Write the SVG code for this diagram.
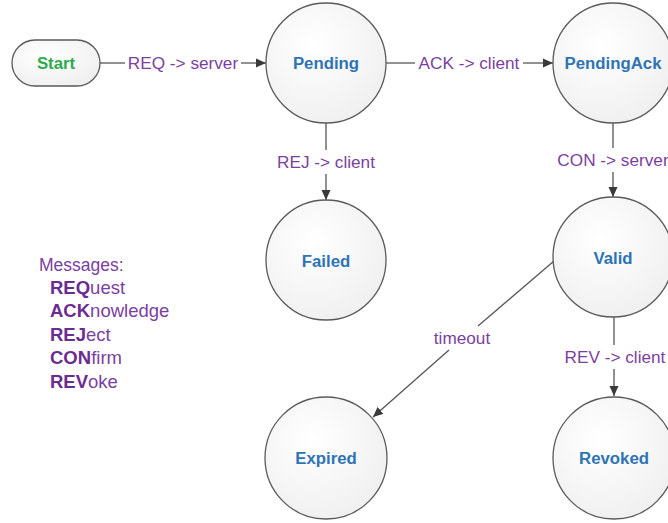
<svg xmlns="http://www.w3.org/2000/svg" width="668" height="523" viewBox="0 0 668 523">
  <style>
    .state { stroke: #5a5a5a; stroke-width: 1.3; fill: url(#stateFill); }
    .name { font-family: "Liberation Sans", Arial, sans-serif; font-weight: bold; font-size: 16.8px; fill: #2E74B5; text-anchor: middle; dominant-baseline: central; }
    .start { fill: #2EAA4F; }
    .edge { stroke: #555; stroke-width: 1.3; fill: none; }
    .lbl { font-family: "Liberation Sans", Arial, sans-serif; font-size: 17.2px; fill: #7B3FA0; text-anchor: middle; dominant-baseline: central; }
    .legend { font-family: "Liberation Sans", Arial, sans-serif; font-size: 17.5px; fill: #7B3FA0; }
    .legend .item { font-size: 18.5px; }
    .legend .b { font-weight: bold; fill: #6A2C91; }
  </style>
  <defs>
    <radialGradient id="stateFill" cx="0.4" cy="0.35" r="0.8">
      <stop offset="0" stop-color="#ffffff"/>
      <stop offset="1" stop-color="#ededed"/>
    </radialGradient>
    <marker id="arrow" viewBox="0 0 10 10" refX="10" refY="5" markerWidth="10" markerHeight="10" markerUnits="userSpaceOnUse" orient="auto">
      <path d="M0,0.5 L10,5 L0,9.5 z" fill="#3a3a3a"/>
    </marker>
  </defs>

  <rect width="668" height="523" fill="#ffffff"/>

  <!-- connectors -->
  <g id="connectors">
    <!-- Start -> Pending -->
    <line class="edge" x1="100" y1="63" x2="125" y2="63"/>
    <line class="edge" x1="241" y1="63" x2="266" y2="63" marker-end="url(#arrow)"/>
    <text class="lbl" x="183" y="63">REQ -&gt; server</text>
    <!-- Pending -> PendingAck -->
    <line class="edge" x1="386" y1="63" x2="415" y2="63"/>
    <line class="edge" x1="523" y1="63" x2="553" y2="63" marker-end="url(#arrow)"/>
    <text class="lbl" x="469" y="63">ACK -&gt; client</text>
    <!-- Pending -> Failed -->
    <line class="edge" x1="326" y1="123" x2="326" y2="150"/>
    <line class="edge" x1="326" y1="174" x2="326" y2="200" marker-end="url(#arrow)"/>
    <text class="lbl" x="326" y="162">REJ -&gt; client</text>
    <!-- PendingAck -> Valid -->
    <line class="edge" x1="613" y1="123" x2="613" y2="148"/>
    <line class="edge" x1="613" y1="172" x2="613" y2="197" marker-end="url(#arrow)"/>
    <text class="lbl" x="613" y="160">CON -&gt; server</text>
    <!-- Valid -> Revoked -->
    <line class="edge" x1="614" y1="317" x2="614" y2="345"/>
    <line class="edge" x1="614" y1="369" x2="614" y2="396" marker-end="url(#arrow)"/>
    <text class="lbl" x="615" y="357">REV -&gt; client</text>
    <!-- Valid -> Expired -->
    <line class="edge" x1="554" y1="261" x2="478" y2="326"/>
    <line class="edge" x1="449" y1="350" x2="373" y2="417" marker-end="url(#arrow)"/>
    <text class="lbl" x="462" y="338">timeout</text>
  </g>

  <!-- states -->
  <g id="start">
    <rect class="state" x="12" y="40" width="88" height="46" rx="23" ry="23"/>
    <text class="name start" x="56" y="63">Start</text>
  </g>
  <g id="pending">
    <circle class="state" cx="326" cy="63" r="60"/>
    <text class="name" x="326" y="63">Pending</text>
  </g>
  <g id="pendingAck">
    <circle class="state" cx="613" cy="63" r="60"/>
    <text class="name" x="613" y="63">PendingAck</text>
  </g>
  <g id="failed">
    <circle class="state" cx="326" cy="260" r="60"/>
    <text class="name" x="326" y="261">Failed</text>
  </g>
  <g id="valid">
    <circle class="state" cx="613" cy="257" r="60"/>
    <text class="name" x="613" y="258">Valid</text>
  </g>
  <g id="expired">
    <circle class="state" cx="326" cy="458" r="61"/>
    <text class="name" x="326" y="458">Expired</text>
  </g>
  <g id="revoked">
    <circle class="state" cx="614" cy="458" r="61"/>
    <text class="name" x="614" y="458">Revoked</text>
  </g>

  <!-- message legend -->
  <g id="legend" class="legend">
    <text x="39" y="271">Messages:</text>
    <text class="item" x="50" y="294"><tspan class="b">REQ</tspan>uest</text>
    <text class="item" x="50" y="317"><tspan class="b">ACK</tspan>nowledge</text>
    <text class="item" x="50" y="341"><tspan class="b">REJ</tspan>ect</text>
    <text class="item" x="50" y="364"><tspan class="b">CON</tspan>firm</text>
    <text class="item" x="50" y="388"><tspan class="b">REV</tspan>oke</text>
  </g>
</svg>
